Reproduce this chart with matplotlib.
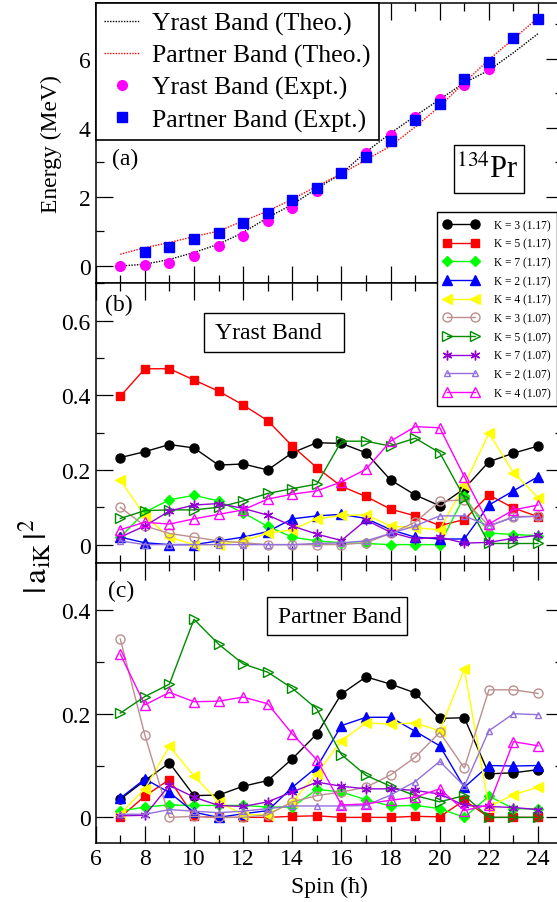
import matplotlib
matplotlib.use('Agg')
import matplotlib.pyplot as plt
from matplotlib.patches import Rectangle
from matplotlib.ticker import MultipleLocator, FuncFormatter

plt.rcParams['font.family'] = ['Liberation Serif', 'STIXGeneral', 'DejaVu Serif']
plt.rcParams['mathtext.fontset'] = 'stix'

# ---- panel (a): energies ----
spin = [7, 8, 9, 10, 11, 12, 13, 14, 15, 16, 17, 18, 19, 20, 21, 22, 23, 24]
yrast_theo = [0.0, 0.05, 0.19, 0.39, 0.63, 0.97, 1.40, 1.78, 2.24, 2.67, 3.30, 3.84, 4.34, 4.82, 5.30, 5.66, 6.17, 6.72]
partner_theo = [0.34, 0.53, 0.68, 0.85, 1.01, 1.30, 1.59, 1.93, 2.31, 2.67, 3.07, 3.47, 4.02, 4.62, 5.30, 5.97, 6.57, 7.18]
spin_yrast_expt = [7, 8, 9, 10, 11, 12, 13, 14, 15, 16, 17, 18, 19, 20, 21, 22]
yrast_expt = [0.0, 0.04, 0.10, 0.28, 0.57, 0.87, 1.30, 1.69, 2.17, 2.68, 3.26, 3.80, 4.32, 4.84, 5.24, 5.70]
spin_partner_expt = [8, 9, 10, 11, 12, 13, 14, 15, 16, 17, 18, 19, 20, 21, 22, 23, 24]
partner_expt = [0.39, 0.56, 0.77, 0.94, 1.23, 1.54, 1.90, 2.27, 2.68, 3.16, 3.61, 4.22, 4.69, 5.40, 5.90, 6.60, 7.13]

# ---- wave function components, same order as the legend ----
k_labels = ['K = 3 (1.17)', 'K = 5 (1.17)', 'K = 7 (1.17)', 'K = 2 (1.17)', 'K = 4 (1.17)',
            'K = 3 (1.07)', 'K = 5 (1.07)', 'K = 7 (1.07)', 'K = 2 (1.07)', 'K = 4 (1.07)']

# panel (b): yrast band
b_k3_117 = [0.233, 0.249, 0.268, 0.259, 0.213, 0.216, 0.200, 0.246, 0.273, 0.271, 0.246, 0.173, 0.133, 0.104, 0.150, 0.222, 0.245, 0.264]
b_k5_117 = [0.397, 0.471, 0.471, 0.441, 0.411, 0.374, 0.332, 0.264, 0.206, 0.156, 0.129, 0.095, 0.077, 0.051, 0.067, 0.133, 0.098, 0.075]
b_k7_117 = [0.020, 0.087, 0.120, 0.132, 0.117, 0.085, 0.049, 0.020, 0.010, 0.005, 0.003, 0.000, 0.000, 0.000, 0.130, 0.031, 0.027, 0.024]
b_k2_117 = [0.020, 0.005, 0.000, 0.000, 0.010, 0.020, 0.035, 0.069, 0.077, 0.081, 0.070, 0.040, 0.020, 0.015, 0.015, 0.106, 0.144, 0.182]
b_k4_117 = [0.173, 0.077, 0.020, 0.000, 0.000, 0.010, 0.030, 0.040, 0.069, 0.078, 0.080, 0.050, 0.045, 0.040, 0.160, 0.298, 0.193, 0.126]
b_k3_107 = [0.100, 0.050, 0.030, 0.020, 0.010, 0.005, 0.000, 0.000, 0.000, 0.000, 0.005, 0.030, 0.060, 0.116, 0.120, 0.050, 0.075, 0.076]
b_k5_107 = [0.070, 0.091, 0.093, 0.093, 0.100, 0.117, 0.137, 0.150, 0.162, 0.277, 0.277, 0.264, 0.285, 0.246, 0.126, 0.003, 0.003, 0.003]
b_k7_107 = [0.020, 0.050, 0.090, 0.106, 0.110, 0.097, 0.079, 0.050, 0.028, 0.011, 0.066, 0.033, 0.015, 0.020, 0.004, 0.006, 0.017, 0.025]
b_k2_107 = [0.010, 0.000, 0.000, 0.000, 0.000, 0.000, 0.000, 0.000, 0.003, 0.005, 0.010, 0.030, 0.050, 0.077, 0.077, 0.050, 0.073, 0.076]
b_k4_107 = [0.040, 0.060, 0.055, 0.069, 0.081, 0.093, 0.122, 0.135, 0.144, 0.168, 0.202, 0.277, 0.316, 0.313, 0.182, 0.055, 0.093, 0.106]

# panel (c): partner band
c_k3_117 = [0.035, 0.071, 0.105, 0.042, 0.043, 0.060, 0.071, 0.113, 0.161, 0.238, 0.271, 0.257, 0.240, 0.191, 0.192, 0.084, 0.086, 0.092]
c_k5_117 = [0.000, 0.041, 0.073, 0.002, 0.000, 0.000, 0.000, 0.002, 0.003, 0.000, 0.000, 0.000, 0.002, 0.001, 0.033, 0.000, 0.000, 0.000]
c_k7_117 = [0.012, 0.020, 0.024, 0.023, 0.023, 0.023, 0.020, 0.020, 0.054, 0.049, 0.034, 0.022, 0.023, 0.017, 0.000, 0.041, 0.017, 0.016]
c_k2_117 = [0.037, 0.074, 0.048, 0.010, 0.000, 0.007, 0.013, 0.058, 0.097, 0.177, 0.193, 0.193, 0.166, 0.138, 0.058, 0.100, 0.099, 0.100]
c_k4_117 = [0.007, 0.055, 0.137, 0.080, 0.030, 0.005, 0.005, 0.030, 0.084, 0.148, 0.182, 0.180, 0.182, 0.167, 0.286, 0.020, 0.044, 0.058]
c_k3_107 = [0.344, 0.159, 0.000, 0.002, 0.000, 0.000, 0.005, 0.030, 0.042, 0.049, 0.058, 0.082, 0.116, 0.164, 0.095, 0.246, 0.246, 0.239]
c_k5_107 = [0.201, 0.233, 0.257, 0.382, 0.334, 0.296, 0.280, 0.249, 0.209, 0.121, 0.081, 0.060, 0.042, 0.030, 0.042, 0.000, 0.000, 0.000]
c_k7_107 = [0.003, 0.004, 0.062, 0.039, 0.023, 0.021, 0.030, 0.049, 0.068, 0.060, 0.055, 0.055, 0.052, 0.045, 0.023, 0.021, 0.019, 0.015]
c_k2_107 = [0.006, 0.006, 0.015, 0.012, 0.009, 0.012, 0.017, 0.022, 0.022, 0.022, 0.023, 0.043, 0.069, 0.108, 0.060, 0.167, 0.200, 0.198]
c_k4_107 = [0.315, 0.217, 0.241, 0.223, 0.224, 0.232, 0.219, 0.161, 0.111, 0.024, 0.026, 0.033, 0.039, 0.055, 0.013, 0.024, 0.146, 0.138]

yrast_sets = [b_k3_117, b_k5_117, b_k7_117, b_k2_117, b_k4_117,
              b_k3_107, b_k5_107, b_k7_107, b_k2_107, b_k4_107]
partner_sets = [c_k3_117, c_k5_117, c_k7_117, c_k2_117, c_k4_117,
                c_k3_107, c_k5_107, c_k7_107, c_k2_107, c_k4_107]

# styles
colors = ['black', '#ff0000', '#00ff00', '#0000ff', '#ffff00',
          '#bc8f8f', '#008b00', '#9400d3', '#9370db', '#ff00ff']
markers = ['o', 's', 'D', '^', '<', 'o', '>', (6, 2, 0), '^', '^']
msizes = [6.5, 6, 5, 6.5, 7, 6.5, 7, 7, 5, 7]
filled = [True, True, True, True, True, False, False, True, False, False]


def style_axis(ax):
    ax.set_xlim(6, 25)
    ax.xaxis.set_major_locator(MultipleLocator(2))
    ax.xaxis.set_minor_locator(MultipleLocator(1))
    ax.tick_params(which='both', direction='in', top=True, right=True, labelsize=17)
    ax.tick_params(which='major', length=12, width=0.9)
    ax.tick_params(which='minor', length=6, width=0.9)
    ax.yaxis.set_major_formatter(FuncFormatter(lambda v, p: '%g' % round(v, 3)))
    for s in ax.spines.values():
        s.set_linewidth(1.1)


def draw_components(ax, sets):
    handles = []
    for data, lab, c, m, ms, f in zip(sets, k_labels, colors, markers, msizes, filled):
        h, = ax.plot(spin, data, color=c, lw=1.0, marker=m, ms=ms,
                     mfc=c if f else 'none', mec=c, mew=1.0, label=lab)
        handles.append(h)
    return handles


def boxed_label(ax, x0, x1, y0, y1, tx, ty, s, size=17):
    ax.add_patch(Rectangle((x0, y0), x1 - x0, y1 - y0, transform=ax.transAxes,
                           fc='white', ec='black', lw=1.0, zorder=4))
    ax.text(tx, ty, s, transform=ax.transAxes, fontsize=size, ha='center', va='center', zorder=5)


fig = plt.figure(figsize=(5.57, 9.03), dpi=100)
L, W, H = 0.1718, 0.8383, 0.3101
axa = fig.add_axes([L, 0.6852, W, H])
axb = fig.add_axes([L, 0.3751, W, H])
axc = fig.add_axes([L, 0.0650, W, H])

# (a)
axa.plot(spin, yrast_theo, color='black', ls=(0, (1, 1)), lw=1.0, label='Yrast Band (Theo.)')
axa.plot(spin, partner_theo, color='red', ls=(0, (1, 1)), lw=1.0, label='Partner Band (Theo.)')
axa.plot(spin_yrast_expt, yrast_expt, 'o', color='#ff00ff', ms=7, label='Yrast Band (Expt.)')
axa.plot(spin_partner_expt, partner_expt, 's', color='#0000ff', ms=6.5, label='Partner Band (Expt.)')
style_axis(axa)
axa.set_ylim(-0.5, 7.6)
axa.yaxis.set_major_locator(MultipleLocator(2))
axa.yaxis.set_minor_locator(MultipleLocator(1))
axa.tick_params(labelbottom=False)
leg = axa.legend(loc='upper left', bbox_to_anchor=(0, 1), borderaxespad=0, fontsize=18.5,
                 fancybox=False, edgecolor='black', framealpha=1, handlelength=1.35,
                 handletextpad=0.5, labelspacing=0.34, borderpad=0.33)
leg.get_frame().set_linewidth(1.2)
axa.text(0.035, 0.446, '(a)', transform=axa.transAxes, fontsize=17, ha='left', va='center')
boxed_label(axa, 0.767, 0.917, 0.321, 0.494, 0.838, 0.41, r'$^{134}$Pr', size=22)
axa.set_ylabel('Energy (MeV)', fontsize=17)
axa.yaxis.set_label_coords(-0.073, 0.5)

# (b)
handles = draw_components(axb, yrast_sets)
style_axis(axb)
axb.set_ylim(-0.05, 0.7)
axb.yaxis.set_major_locator(MultipleLocator(0.2))
axb.yaxis.set_minor_locator(MultipleLocator(0.1))
axb.tick_params(labelbottom=False)
axb.text(0.02, 0.925, '(b)', transform=axb.transAxes, fontsize=17, ha='left', va='center')
boxed_label(axb, 0.232, 0.532, 0.756, 0.893, 0.371, 0.825, 'Yrast Band')

# (c)
draw_components(axc, partner_sets)
style_axis(axc)
axc.set_ylim(-0.05, 0.49)
axc.yaxis.set_major_locator(MultipleLocator(0.2))
axc.yaxis.set_minor_locator(MultipleLocator(0.1))
axc.text(0.026, 0.902, '(c)', transform=axc.transAxes, fontsize=17, ha='left', va='center')
boxed_label(axc, 0.3675, 0.667, 0.744, 0.879, 0.523, 0.811, 'Partner Band')
axc.set_xlabel('Spin (ħ)', fontsize=17, labelpad=5)

fig.text(0.063, 0.384, r'$|\,\mathrm{a}_{\mathrm{iK}}\,|^{2}$', rotation=90, fontsize=24,
         ha='center', va='center')

kleg = fig.legend(handles, k_labels, loc='upper right', bbox_to_anchor=(563 / 557, 1 - 207.3 / 903),
                  fontsize=8.3, numpoints=2, handlelength=3.0, handletextpad=1.3,
                  labelspacing=0.58, borderpad=0.6, fancybox=False, edgecolor='black', framealpha=1)
kleg.get_frame().set_linewidth(1.0)

fig.savefig('out.png', dpi=100)
